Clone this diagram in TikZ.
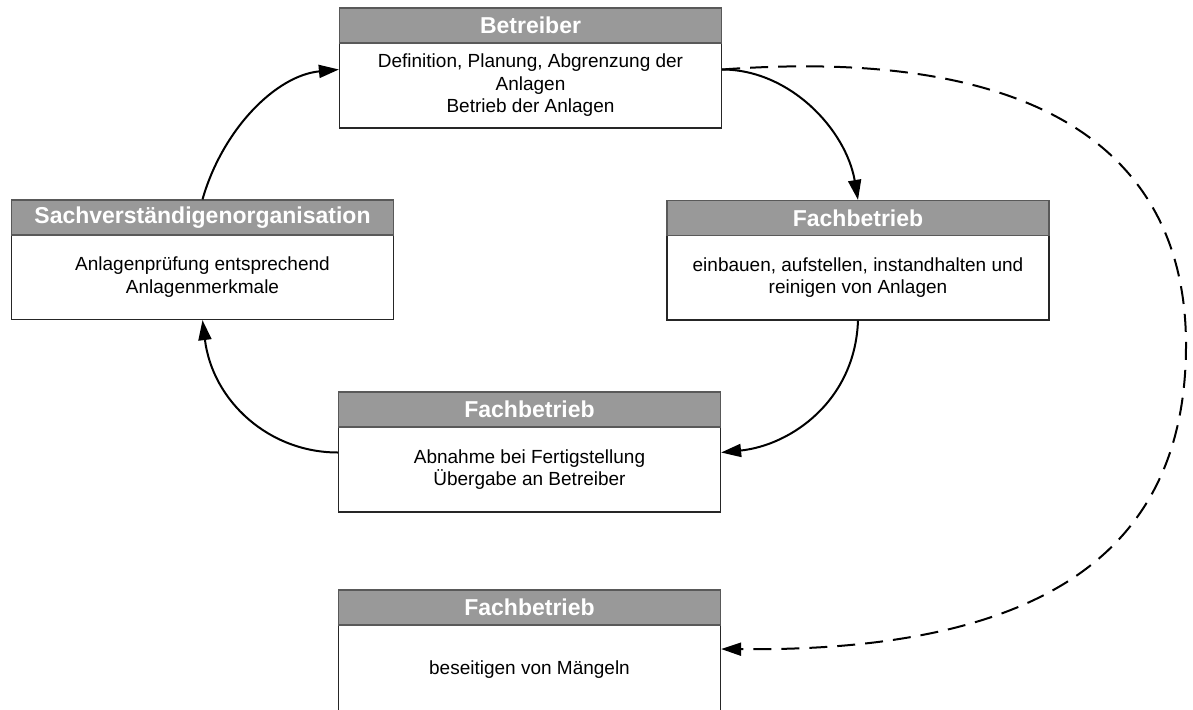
\documentclass[tikz,border=0pt]{standalone}
\usepackage{fontspec}
\setmainfont{Liberation Sans}
\usetikzlibrary{arrows.meta}
\begin{document}
\begin{tikzpicture}[x=1pt,y=-1pt,
  hdr/.style={draw=black!65, line width=1.2pt, fill=black!40, minimum width=382pt, minimum height=35pt, inner sep=0pt,
    text=white, font=\bfseries\fontsize{23}{27}\selectfont},
  bdy/.style={draw=black!85, line width=1.2pt, fill=white, minimum width=382pt, minimum height=85pt, inner sep=0pt,
    align=center, font=\fontsize{19}{22.5}\selectfont},
  conn/.style={line width=2pt, -{Triangle[length=20pt,width=13pt]}},
  dconn/.style={conn, dash pattern=on 18pt off 10pt}]
\useasboundingbox (0,0) rectangle (1193,709);
\fill[white] (0,0) rectangle (1193,709);
% Betreiber
\node[bdy] (bA) at (530.5,85.5) {Definition, Planung, Abgrenzung der\\Anlagen\\Betrieb der Anlagen};
\node[hdr] (hA) at (530.5,25.5) {Betreiber};
% Sachverstaendige
\node[bdy] (bS) at (202.5,277) {Anlagenprüfung entsprechend\\Anlagenmerkmale};
\node[hdr] (hS) at (202.5,217.5) {Sachverständigenorganisation};
% Fachbetrieb 1
\node[bdy] (bF1) at (858,277.5) {einbauen, aufstellen, instandhalten und\\reinigen von Anlagen};
\node[hdr] (hF1) at (858,218) {Fachbetrieb};
% Fachbetrieb 2
\node[bdy] (bF2) at (529.5,469.5) {Abnahme bei Fertigstellung\\Übergabe an Betreiber};
\node[hdr] (hF2) at (529.5,409.5) {Fachbetrieb};
% Fachbetrieb 3
\node[bdy, minimum height=90pt] (bF3) at (529.5,670) {beseitigen von Mängeln};
\node[hdr] (hF3) at (529.5,607.5) {Fachbetrieb};
% connectors
\draw[conn] (hS.north) .. controls +(20,-70) and +(-63,6) .. ([yshift=16pt]bA.west);
\draw[conn] ([yshift=16pt]bA.east) .. controls +(68,0) and +(-12,-70) .. (hF1.north);
\draw[conn] (bF1.south) .. controls +(-3,81) and +(69,-7) .. ([yshift=17pt]bF2.east);
\draw[conn] ([yshift=17pt]bF2.west) .. controls +(-69,0) and +(10,81) .. (bS.south);
\coordinate (dmid) at (1186,345);
\draw[dconn] ([yshift=16pt]bA.east) .. controls +(328,-24) and +(0,-185) .. (dmid)
  .. controls +(0,195) and +(338,3) .. ([yshift=21pt]bF3.east);
\end{tikzpicture}
\end{document}
